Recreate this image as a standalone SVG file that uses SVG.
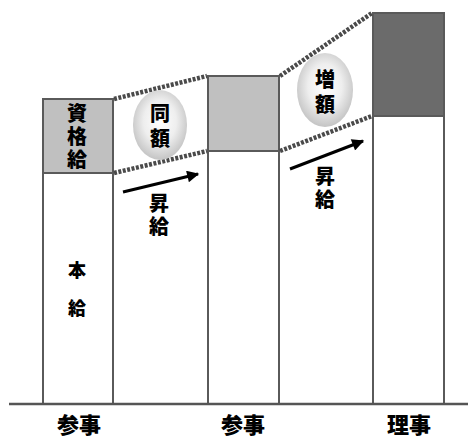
<svg xmlns="http://www.w3.org/2000/svg" width="468" height="439" viewBox="0 0 468 439">
<defs>
<radialGradient id="eg" cx="50%" cy="45%" r="55%">
<stop offset="0" stop-color="#ffffff"/>
<stop offset="0.55" stop-color="#eeeeee"/>
<stop offset="1" stop-color="#c4c4c4"/>
</radialGradient>
<marker id="ah" viewBox="0 0 10 10" refX="9" refY="5" markerWidth="6" markerHeight="4" orient="auto" markerUnits="strokeWidth">
<path d="M0,0 L10,5 L0,10 z" fill="#000"/>
</marker>
<style>
.bar{stroke:#5a5a5a;stroke-width:2}
.dot{stroke:#4a4a4a;stroke-width:4.5;stroke-dasharray:3 1.5;fill:none}
.t{font-family:"Noto Sans CJK JP","Noto Sans CJK SC",sans-serif;font-weight:900;fill:#000;text-anchor:middle}
.s20{font-size:20px}
.s18{font-size:18px}
.s22{font-size:22px}
.arr{stroke:#000;stroke-width:3;fill:none}
</style>
</defs>
<rect width="468" height="439" fill="#fff"/>
<g id="bar1">
<rect class="bar" x="43" y="99" width="70" height="74" fill="#c0c0c0"/>
<rect class="bar" x="43" y="173" width="70" height="231" fill="#fff"/>
<text class="t s20" x="77" y="121">資</text>
<text class="t s20" x="77" y="144">格</text>
<text class="t s20" x="77" y="167">給</text>
<text class="t s18" x="77" y="277">本</text>
<text class="t s18" x="77" y="315">給</text>
</g>
<g id="bar2">
<rect class="bar" x="208" y="76" width="71" height="75" fill="#c0c0c0"/>
<rect class="bar" x="208" y="151" width="71" height="253" fill="#fff"/>
</g>
<g id="bar3">
<rect class="bar" x="373" y="13" width="71" height="103" fill="#6b6b6b"/>
<rect class="bar" x="373" y="116" width="71" height="288" fill="#fff"/>
</g>
<g id="connectors">
<line class="dot" x1="114" y1="99" x2="207" y2="76"/>
<line class="dot" x1="114" y1="173" x2="207" y2="151"/>
<line class="dot" x1="280" y1="76" x2="372" y2="13"/>
<line class="dot" x1="280" y1="151" x2="372" y2="116"/>
<line class="arr" x1="123" y1="192" x2="198" y2="174" marker-end="url(#ah)"/>
<line class="arr" x1="290" y1="169" x2="363" y2="141" marker-end="url(#ah)"/>
</g>
<g id="same">
<ellipse cx="160" cy="125" rx="27" ry="35" fill="url(#eg)"/>
<text class="t s20" x="160" y="121">同</text>
<text class="t s20" x="160" y="146">額</text>
</g>
<g id="increase">
<ellipse cx="325" cy="90" rx="28" ry="37" fill="url(#eg)"/>
<text class="t s20" x="325" y="87">増</text>
<text class="t s20" x="325" y="112">額</text>
</g>
<g id="raise1">
<text class="t s20" x="159" y="211">昇</text>
<text class="t s20" x="159" y="234">給</text>
</g>
<g id="raise2">
<text class="t s20" x="325" y="184">昇</text>
<text class="t s20" x="325" y="207">給</text>
</g>
<g id="axis">
<line x1="9" y1="404" x2="468" y2="404" stroke="#555" stroke-width="2.5"/>
<text class="t s22" x="79" y="433">参事</text>
<text class="t s22" x="243" y="433">参事</text>
<text class="t s22" x="409" y="433">理事</text>
</g>
</svg>
